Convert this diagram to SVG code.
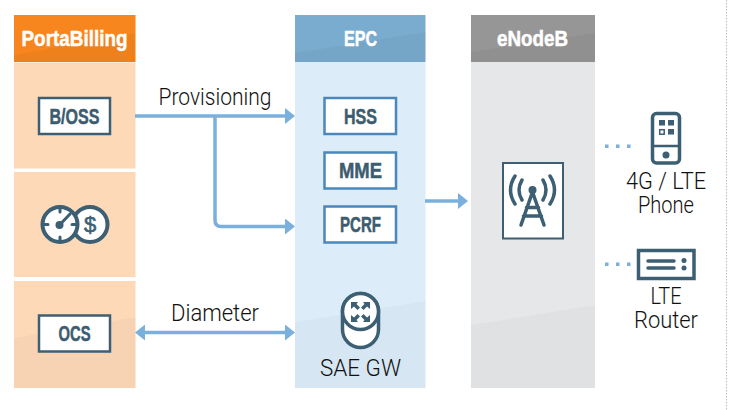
<svg xmlns="http://www.w3.org/2000/svg" width="732" height="410" viewBox="0 0 732 410">
<defs>
<marker id="ah" viewBox="0 0 10 16" refX="0" refY="8" markerWidth="10" markerHeight="16" markerUnits="userSpaceOnUse" orient="auto-start-reverse"><path d="M0 0L10 8L0 16Z" fill="#7bb0dc"/></marker>
</defs>
<style>
.h{font-family:"Liberation Sans Narrow","Liberation Sans",sans-serif;font-weight:700;font-size:22.500px;fill:#fff;stroke:#fff;stroke-width:.5px;text-anchor:middle}
.b{font-family:"Liberation Sans Narrow","Liberation Sans",sans-serif;font-weight:700;font-size:22px;fill:#3c5c70;stroke:#3c5c70;stroke-width:.5px;text-anchor:middle}
.l{font-family:"Roboto","Liberation Sans",sans-serif;font-weight:300;font-size:24px;fill:#111;text-anchor:middle}
.bx{fill:#fff;stroke-width:2.5}
.dk{stroke:#3c5f73}.bl{stroke:#4b87bb}
.sh{fill:#000;opacity:.035}
.sb{fill:#000;opacity:.025}
.i{fill:none;stroke:#3c5f73;stroke-width:3.5;stroke-linecap:round}
.f{fill:#3c5f73}
.c{fill:none;stroke:#7bb0dc;stroke-width:3.5}
.d{fill:#7bb0dc}
</style>
<path d="M726.500 0V410" stroke="#bdbdbd" stroke-dasharray="1.5 1.5" fill="none"/>
<g id="portabilling">
<rect x="14" y="15" width="121.500" height="47" fill="#f8861e"/>
<path class="sh" d="M14 55L135.500 33V62H14Z"/>
<rect x="14" y="62.500" width="121.500" height="106" fill="#fdd9b8"/>
<rect x="14" y="172" width="121.500" height="105" fill="#fdd9b8"/>
<rect x="14" y="281" width="121.500" height="107" fill="#fdd9b8"/>
<path class="sb" d="M14 338L135.500 317V388H14Z"/>
<text class="h" x="74.500" y="46" textLength="106" lengthAdjust="spacingAndGlyphs">PortaBilling</text>
</g>
<g id="bss"><rect class="bx dk" x="39" y="98" width="71" height="36"/><text class="b" x="74.500" y="124" textLength="50" lengthAdjust="spacingAndGlyphs">B/OSS</text></g>
<g id="charging">
<circle cx="90" cy="224.500" r="17.500" fill="#fff" stroke="#3c5f73" stroke-width="4"/>
<circle cx="60" cy="224.500" r="17.500" fill="#fff" stroke="#3c5f73" stroke-width="4"/>
<path class="i" style="stroke-width:3" d="M60 208V212M60 237V241M43.500 224.500H48M72 224.500H76.500M60 224.500L70 214"/>
<circle class="f" cx="59.500" cy="225" r="4"/>
<text x="90" y="232" font-family="Liberation Sans, sans-serif" font-size="22" fill="#3c5f73" stroke="#3c5f73" stroke-width=".6" text-anchor="middle">$</text>
</g>
<g id="ocs"><rect class="bx dk" x="39" y="315.500" width="71" height="36"/><text class="b" x="74.500" y="341" textLength="32" lengthAdjust="spacingAndGlyphs">OCS</text></g>
<g id="epc">
<rect x="295" y="15" width="130.500" height="47" fill="#7aaccf"/>
<path class="sh" d="M295 53L425.500 32V62H295Z"/>
<rect x="295" y="62" width="130.500" height="326" fill="#dcecf8"/>
<path class="sb" d="M295 322L425.500 301V388H295Z"/>
<text class="h" x="360.500" y="46" textLength="33" lengthAdjust="spacingAndGlyphs">EPC</text>
</g>
<g id="hss"><rect class="bx bl" x="324.500" y="98" width="71.500" height="36"/><text class="b" x="360.500" y="124" textLength="33" lengthAdjust="spacingAndGlyphs">HSS</text></g>
<g id="mme"><rect class="bx bl" x="324.500" y="152.500" width="71.500" height="36"/><text class="b" x="360.500" y="178" textLength="43" lengthAdjust="spacingAndGlyphs">MME</text></g>
<g id="pcrf"><rect class="bx bl" x="324.500" y="206.500" width="71.500" height="36"/><text class="b" x="360.500" y="232" textLength="41" lengthAdjust="spacingAndGlyphs">PCRF</text></g>
<g id="sae-gw">
<rect x="342.500" y="293.500" width="36" height="54" rx="18" fill="#fff" stroke="#3c5f73" stroke-width="3.500"/>
<circle cx="360.500" cy="311.500" r="18" fill="#fff" stroke="#3c5f73" stroke-width="3.500"/>
<path class="f" d="M351 302H358L356.500 304L360 307.500L357.500 310L354 306.500L351 309ZM370 302H363L364.500 304L361 307.500L363.500 310L367 306.500L370 309Z"/>
<path class="f" d="M351 322H358L356.500 320L360 316.500L357.500 314L354 317.500L351 315ZM370 322H363L364.500 320L361 316.500L363.500 314L367 317.500L370 315Z"/>
<text class="l" x="360.500" y="376" textLength="81" lengthAdjust="spacingAndGlyphs">SAE GW</text>
</g>
<g id="enodeb">
<rect x="471" y="15" width="124" height="47" fill="#969696"/>
<path class="sh" d="M471 52L595 33V62H471Z"/>
<rect x="471" y="62" width="124" height="326" fill="#e6e7e9"/>
<path class="sb" d="M471 325L595 305V388H471Z"/>
<text class="h" x="532.500" y="46" textLength="71" lengthAdjust="spacingAndGlyphs">eNodeB</text>
<rect x="503" y="163" width="60" height="75.500" fill="#fff" stroke="#3c5f73" stroke-width="2"/>
<circle class="f" cx="532.500" cy="190" r="4"/>
<path class="i" d="M532.500 192L521 225M532.500 192L544 225M526.500 207.500H538.500M523.500 216H541.500"/>
<path class="i" d="M522 180Q516 190 522 200M543 180Q549 190 543 200M515 176Q506 190 515 204M550 176Q559 190 550 204"/>
</g>
<g id="phone">
<rect x="652.500" y="113.500" width="27" height="49.500" rx="4" fill="#fff" stroke="#3c5f73" stroke-width="3.500"/>
<path d="M652.500 146H679.500" stroke="#3c5f73" stroke-width="2.500"/>
<circle class="f" cx="666" cy="155" r="3.500"/>
<rect class="f" x="659" y="120" width="6" height="5.500"/><rect class="f" x="668" y="120" width="6" height="5.500"/>
<rect x="659.700" y="129.700" width="4.500" height="4.500" fill="none" stroke="#3c5f73" stroke-width="1.500"/><rect class="f" x="668" y="129" width="6" height="5.500"/>
<text class="l"><tspan x="666" y="189" textLength="80" lengthAdjust="spacingAndGlyphs">4G / LTE</tspan><tspan x="666" y="213" textLength="56" lengthAdjust="spacingAndGlyphs">Phone</tspan></text>
</g>
<g id="router">
<rect x="638.500" y="250.500" width="55.500" height="28" fill="#fff" stroke="#3c5f73" stroke-width="3.500"/>
<path class="i" d="M648 261H674M648 268H674"/>
<circle class="f" cx="684" cy="260.500" r="2.500"/><circle class="f" cx="684" cy="268" r="2.500"/>
<text class="l"><tspan x="666" y="304" textLength="31" lengthAdjust="spacingAndGlyphs">LTE</tspan><tspan x="666" y="328" textLength="64" lengthAdjust="spacingAndGlyphs">Router</tspan></text>
</g>
<g id="connectors">
<path class="c" d="M135 116H285" marker-end="url(#ah)"/>
<path class="c" d="M215 116V220Q215 226.500 221 226.500H285" marker-end="url(#ah)"/>
<path class="c" d="M145 332.500H285" marker-start="url(#ah)" marker-end="url(#ah)"/>
<path class="c" d="M425 201H458" marker-end="url(#ah)"/>
<g class="d"><rect x="605" y="144.500" width="3.500" height="3.500"/><rect x="616" y="144.500" width="3.500" height="3.500"/><rect x="627" y="144.500" width="3.500" height="3.500"/><rect x="605" y="262.500" width="3.500" height="3.500"/><rect x="616" y="262.500" width="3.500" height="3.500"/><rect x="627" y="262.500" width="3.500" height="3.500"/></g>
<text class="l" x="215" y="105" textLength="113" lengthAdjust="spacingAndGlyphs">Provisioning</text>
<text class="l" x="215" y="321" textLength="88" lengthAdjust="spacingAndGlyphs">Diameter</text>
</g>
</svg>
